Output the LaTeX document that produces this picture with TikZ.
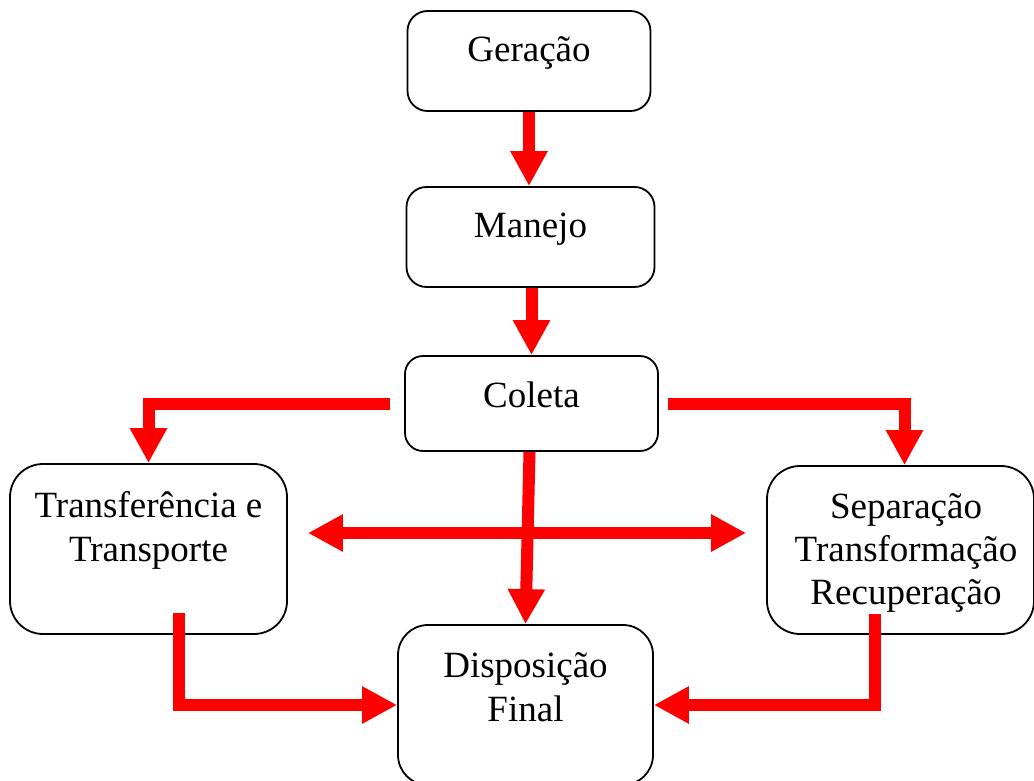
\documentclass[tikz,border=0pt]{standalone}
\usepackage{fontspec}
\setmainfont{Liberation Serif}
\usetikzlibrary{arrows.meta,calc}
\begin{document}
\begin{tikzpicture}[x=1pt,y=-1pt,
  box/.style={draw=black,line width=1.8pt,fill=none,inner sep=0pt},
  txt/.style={inner sep=0pt,align=center,anchor=base,font=\fontsize{37}{43.5}\selectfont},
  arr/.style={draw=red,line width=12pt,-{Triangle[length=35pt,width=35pt]}},
  darr/.style={draw=red,line width=12pt,{Triangle[length=35pt,width=35pt]}-{Triangle[length=35pt,width=35pt]}}]
\useasboundingbox (0,0) rectangle (1034,781);
% boxes
\node[box,rounded corners=20pt,minimum width=243pt,minimum height=100pt] (gen) at (529,61) {};
\node[box,rounded corners=20pt,minimum width=248pt,minimum height=100pt] (man) at (530.5,237) {};
\node[box,rounded corners=18pt,minimum width=253pt,minimum height=95pt] (col) at (531.5,403.5) {};
\node[box,rounded corners=33pt,minimum width=277pt,minimum height=170pt] (tra) at (148.5,549) {};
\node[box,rounded corners=33pt,minimum width=267pt,minimum height=168pt] (sep) at (900.5,550) {};
\node[box,rounded corners=30pt,minimum width=255pt,minimum height=160pt] (disp) at (525.5,705) {};
% texts
\node[txt] (gent) at (529,62) {Geração};
\node[txt] (mant) at (530.5,237) {Manejo};
\node[txt] (colt) at (531.5,407) {Coleta};
\node[txt] (trat1) at (148.5,517) {Transferência e};
\node[txt] (trat2) at (148.5,561) {Transporte};
\node[txt] (sept1) at (906,518) {Separação};
\node[txt] (sept2) at (906,561) {Transformação};
\node[txt] (sept3) at (906,604) {Recuperação};
\node[txt] (dispt1) at (525.5,677) {Disposição};
\node[txt] (dispt2) at (525.5,721) {Final};
% connectors
\draw[arr] (gen.south) -- (gen.south |- man.north);
\draw[arr] ([xshift=1pt]man.south) -- ([xshift=1pt]man.south |- col.north);
\draw[arr] ([xshift=-14pt]col.west) -| (tra.north);
\draw[arr] ([xshift=9pt]col.east) -| ([xshift=4pt]sep.north);
\draw[arr] ([xshift=-2pt]col.south) -- (disp.north);
\coordinate (dl) at ([xshift=20pt]tra.east |- 0,533);
\coordinate (dr) at ([xshift=-20pt]sep.west |- 0,533);
\draw[darr] (dl) -- (dr);
\draw[arr] ([xshift=30.5pt,yshift=22pt]tra.south) |- (disp.west);
\draw[arr] ([xshift=-25.5pt,yshift=21pt]sep.south) |- (disp.east);
\end{tikzpicture}
\end{document}
